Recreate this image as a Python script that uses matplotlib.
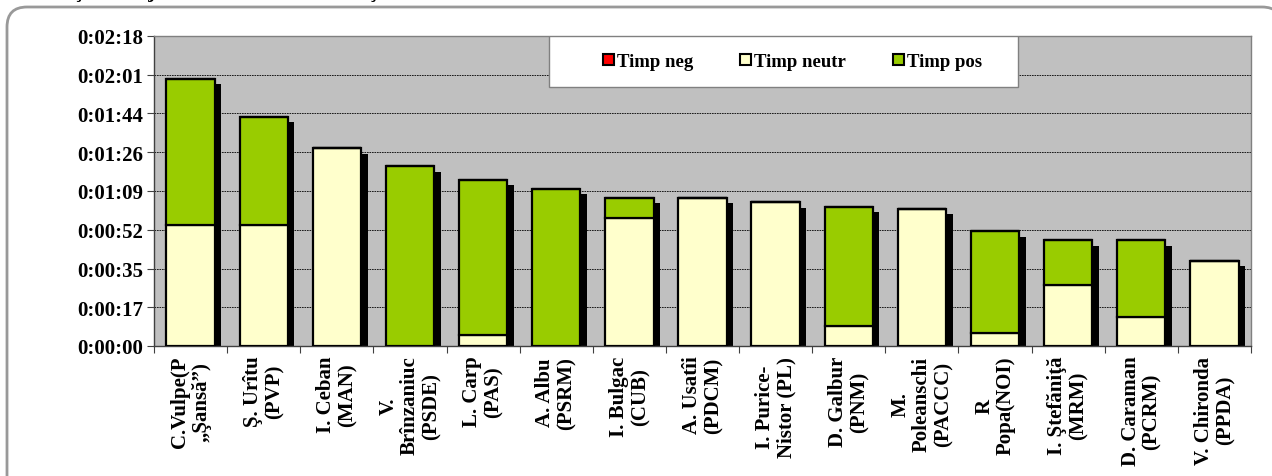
import numpy as np
import matplotlib
import matplotlib.pyplot as plt
from matplotlib.patches import FancyBboxPatch, Patch, Rectangle
from matplotlib.ticker import FixedLocator, NullFormatter

matplotlib.use('Agg')

# candidates (labels as they wrap in the original)
labels = ['C.Vulpe(P\n„Şansă”)', 'Ş. Urîtu\n(PVP)', 'I. Ceban\n(MAN)',
          'V.\nBrînzaniuc\n(PSDE)', 'L. Carp\n(PAS)', 'A. Albu\n(PSRM)',
          'I. Bulgac\n(CUB)', 'A. Usatîi\n(PDCM)', 'I. Purice-\nNistor (PL)',
          'D. Galbur\n(PNM)', 'M.\nPoleanschi\n(PACCC)', 'R\nPopa(NOI)',
          'I. Ştefăniţă\n(MRM)', 'D. Caraman\n(PCRM)', 'V. Chironda\n(PPDA)']

# seconds
timp_neg = [0, 0, 0, 0, 0, 0, 0, 0, 0, 0, 0, 0, 0, 0, 0]
timp_neutr = [54, 54, 88, 0, 5, 0, 57, 66, 64, 9, 61, 6, 27, 13, 38]
timp_pos = [65, 48, 0, 80, 69, 70, 9, 0, 0, 53, 0, 45, 20, 34, 0]

y_ticks = [0, 17.25, 34.5, 51.75, 69, 86.25, 103.5, 120.75, 138]
y_tick_labels = ['0:00:00', '0:00:17', '0:00:35', '0:00:52', '0:01:09',
                 '0:01:26', '0:01:44', '0:02:01', '0:02:18']

c_neg = '#FF0000'
c_neutr = '#FFFFCC'
c_pos = '#99CC00'

plt.rcParams['font.family'] = ['Liberation Serif', 'DejaVu Serif']
plt.rcParams['font.weight'] = 'bold'

fig = plt.figure(figsize=(12.72, 4.77), dpi=100)

# background frame, drawn in pixel-like coords
bg = fig.add_axes([0, 0, 1, 1], zorder=0)
bg.set_xlim(0, 1272)
bg.set_ylim(477, 0)
bg.axis('off')
bg.add_patch(FancyBboxPatch((7, 8), 1275, 490,
                            boxstyle='round,pad=0,rounding_size=20',
                            facecolor='white', edgecolor='#999999', linewidth=2))
# title cut off at top of the picture
bg.text(10, 2, 'Conotaţia mesajului electoral al candidaţilor', fontsize=15,
        va='bottom', ha='left', color='black', clip_on=True)

ax = fig.add_axes([154 / 1272, 130 / 477, 1097 / 1272, 310 / 477], zorder=1)
ax.set_facecolor('#C0C0C0')

x = np.arange(len(labels))
neg = np.array(timp_neg)
neutr = np.array(timp_neutr)
pos = np.array(timp_pos)
total = neg + neutr + pos
w = 0.66

# shadows
ax.bar(x + 0.09, total - 2.4, w, color='black', edgecolor='none', zorder=2)

ax.bar(x, neutr, w, color=c_neutr, edgecolor='black', linewidth=1.6, zorder=3,
       label='Timp neutr')
ax.bar(x, pos, w, bottom=neutr, color=c_pos, edgecolor='black', linewidth=1.6,
       zorder=3, label='Timp pos')
ax.bar(x, neg, w, bottom=neutr + pos, color=c_neg, edgecolor='black',
       linewidth=1.6, zorder=3, label='Timp neg')

ax.set_xlim(-0.5, len(labels) - 0.5)
ax.set_ylim(0, 138)
ax.set_yticks(y_ticks)
ax.set_yticklabels(y_tick_labels, fontsize=15, fontweight='bold')
ax.yaxis.grid(True, color='black', linestyle=(0, (2, 1)), linewidth=0.6)
ax.set_axisbelow(True)

# category labels on minor positions, tick marks between categories
ax.xaxis.set_major_locator(FixedLocator(np.arange(-0.5, len(labels), 1.0)))
ax.xaxis.set_major_formatter(NullFormatter())
ax.xaxis.set_minor_locator(FixedLocator(x))
ax.set_xticklabels(labels, minor=True, rotation=90, fontsize=15,
                   fontweight='bold', va='top', ha='center',
                   multialignment='center', linespacing=1.1)
ax.tick_params(axis='x', which='minor', length=0, pad=7)
ax.tick_params(axis='x', which='major', length=5, color='#404040')
ax.tick_params(axis='y', length=5, color='#404040', pad=3)

for s in ['left', 'bottom']:
    ax.spines[s].set_color('#404040')
    ax.spines[s].set_linewidth(1)
for s in ['top', 'right']:
    ax.spines[s].set_color('#808080')
    ax.spines[s].set_linewidth(1)

# legend box drawn separately so the entries stay centred in it
ax.add_patch(Rectangle((0.36, 0.835), 0.428, 0.165, transform=ax.transAxes,
                       facecolor='white', edgecolor='#808080', linewidth=1,
                       zorder=4))
handles = [Patch(facecolor=c_neg, edgecolor='black', linewidth=1.5),
           Patch(facecolor=c_neutr, edgecolor='black', linewidth=1.5),
           Patch(facecolor=c_pos, edgecolor='black', linewidth=1.5)]
leg = ax.legend(handles, ['Timp neg', 'Timp neutr', 'Timp pos'], ncol=3,
                loc='center', bbox_to_anchor=(0.36 + 0.428 / 2 + 0.008, 0.835 + 0.165 / 2),
                frameon=False, handlelength=0.6, handleheight=0.6,
                handletextpad=0.15, columnspacing=2.5, borderaxespad=0,
                prop={'size': 13.5, 'weight': 'bold'})
leg.set_zorder(5)

plt.savefig('out.png', dpi=100)
